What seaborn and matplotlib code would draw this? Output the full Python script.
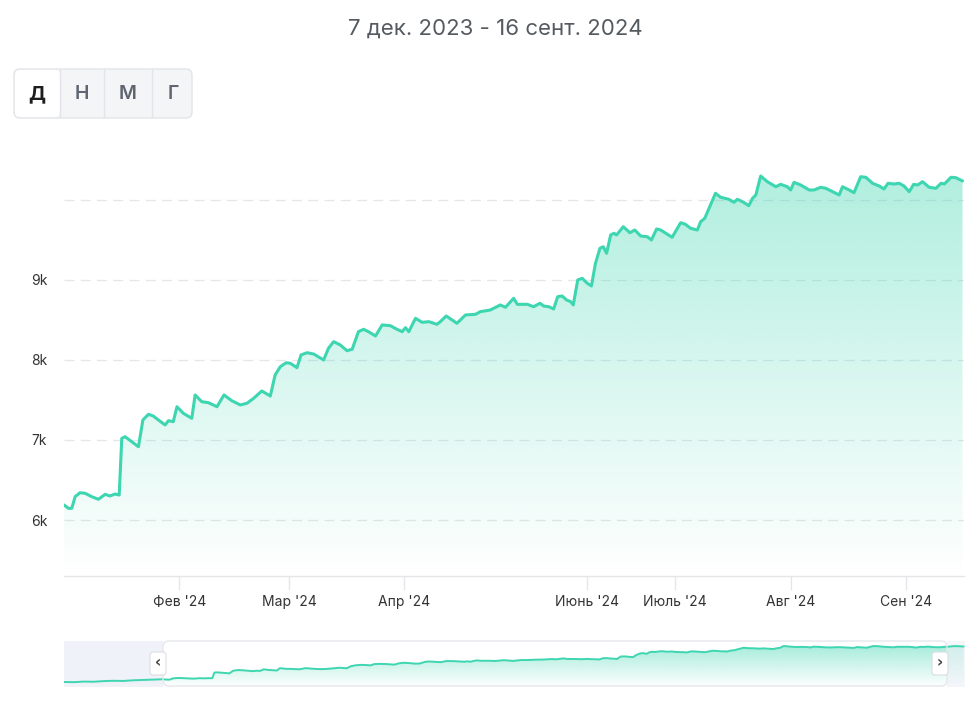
import numpy as np
import pandas as pd
import matplotlib
matplotlib.use("Agg")
import matplotlib.pyplot as plt
import seaborn as sns
from matplotlib.patches import FancyBboxPatch, Rectangle, Polygon
from matplotlib.colors import to_rgb

# ---------------- data ----------------
title = "7 дек. 2023 - 16 сент. 2024"
buttons = ["Д", "Н", "М", "Г"]

day_index = [0, 1.2, 2.1, 3.0, 4.3, 5.7, 7.5, 9.3, 11.1, 12.4, 13.8, 14.9, 15.6, 16.5, 18.3,
             20.1, 21.3, 22.8, 24.1, 25.5, 27.3, 28.2, 29.5, 30.5, 32.2, 34.5, 35.4, 37.2, 39.0,
             41.3, 43.2, 45.3, 47.6, 49.4, 51.2, 53.4, 55.7, 57.0, 58.4, 60.0, 61.1, 62.9, 64.0,
             65.6, 67.4, 70.1, 71.4, 72.8, 74.6, 76.4, 77.8, 79.5, 80.9, 82.2, 84.1, 85.9, 88.1,
             89.9, 91.3, 92.2, 93.1, 94.9, 96.7, 98.5, 100.7, 101.6, 103.2, 104.8, 106.1, 108.4,
             111.1, 112.4, 115.1, 116.0, 117.8, 119.2, 121.4, 122.4, 125.1, 126.8, 128.5, 129.5,
             130.9, 132.2, 133.3, 134.5, 135.7, 136.8, 137.5, 138.7, 139.9, 141.3, 142.4, 143.5,
             144.7, 145.6, 146.5, 147.6, 148.5, 149.2, 151.0, 152.8, 154.1, 155.7, 157.5, 158.6,
             160.0, 161.1, 164.2, 166.5, 167.8, 169.2, 171.0, 171.9, 173.0, 175.9, 177.3, 179.5,
             180.9, 181.8, 183.2, 184.9, 185.9, 186.8, 188.1, 189.9, 192.2, 193.5, 195.3, 196.2,
             197.1, 198.9, 201.2, 202.5, 204.3, 205.7, 207.0, 209.3, 210.2, 212.0, 213.3, 215.1,
             216.5, 218.3, 220.1, 221.4, 222.5, 224.1, 225.5, 226.8, 228.2, 229.4, 230.5, 231.8,
             233.6, 235.4, 236.8, 237.7, 239.5, 240.8, 242.6]
values = [6188, 6146, 6146, 6291, 6341, 6334, 6291, 6259, 6321, 6300, 6325, 6312, 7021, 7041, 6979,
          6916, 7250, 7321, 7300, 7250, 7188, 7241, 7229, 7416, 7334, 7271, 7563, 7479, 7466,
          7416, 7563, 7491, 7438, 7459, 7521, 7613, 7550, 7813, 7916, 7966, 7959, 7904, 8063,
          8091, 8075, 8000, 8146, 8229, 8188, 8116, 8134, 8354, 8384, 8354, 8300, 8438, 8429,
          8384, 8354, 8404, 8354, 8521, 8471, 8479, 8446, 8479, 8550, 8500, 8459, 8563,
          8571, 8604, 8625, 8646, 8688, 8659, 8771, 8696, 8696, 8666, 8709, 8675,
          8666, 8638, 8791, 8800, 8750, 8729, 8688, 9000, 9021, 8959, 8925, 9209,
          9396, 9416, 9334, 9563, 9584, 9563, 9666, 9591, 9625, 9550, 9541, 9500,
          9638, 9625, 9534, 9716, 9696, 9646, 9625, 9729, 9771, 10084, 10034, 10009,
          9971, 10009, 9979, 9929, 10021, 10063, 10300, 10229, 10166, 10196, 10166, 10125,
          10221, 10188, 10125, 10125, 10159, 10146, 10116, 10063, 10166, 10125, 10091, 10291,
          10284, 10209, 10175, 10138, 10209, 10200, 10209, 10175, 10104, 10196, 10188, 10229,
          10159, 10146, 10209, 10200, 10284, 10279, 10238]

# December part, only visible in the navigator
dec_index = [-30, -27, -24, -21, -18, -15, -12, -9, -6, -3]
dec_values = [5850, 5830, 5900, 5880, 5960, 6000, 5980, 6060, 6100, 6150]

x_tick_pos = [31.1, 60.8, 91.9, 141.1, 164.9, 196.2, 227.3]
x_tick_labels = ["Фев '24", "Мар '24", "Апр '24", "Июнь '24", "Июль '24", "Авг '24", "Сен '24"]
y_ticks = [6000, 7000, 8000, 9000, 10000]
y_tick_labels = ["6k", "7k", "8k", "9k", ""]

main_df = pd.DataFrame({"x": day_index, "y": values})
nav_df = pd.DataFrame({"x": dec_index + day_index, "y": dec_values + values})

# ---------------- style ----------------
sns.set_theme(style="white")
plt.rcParams["font.family"] = ["Inter", "DejaVu Sans"]

LINE = "#3dd6b0"
TXT = "#333333"
GRID = "#e6e6ea"

W, H = 974, 702
fig = plt.figure(figsize=(W / 100, H / 100), dpi=100)
fig.patch.set_facecolor("white")


def px_axes(x0, y0, x1, y1):
    return fig.add_axes([x0 / W, 1 - y1 / H, (x1 - x0) / W, (y1 - y0) / H])


def gradient_fill(ax, df, ymin, ytop, alpha_top):
    xs = df["x"].to_numpy()
    ys = df["y"].to_numpy()
    verts = [(xs[0], ymin)] + list(zip(xs, ys)) + [(xs[-1], ymin)]
    poly = Polygon(verts, closed=True, facecolor="none", edgecolor="none")
    ax.add_patch(poly)
    n = 256
    rgba = np.zeros((n, 1, 4))
    rgba[:, :, :3] = to_rgb(LINE)
    rgba[:, 0, 3] = np.linspace(alpha_top, 0.0, n)
    im = ax.imshow(rgba, aspect="auto", extent=[xs[0], xs[-1], ymin, ytop],
                   origin="upper", zorder=1, interpolation="bilinear")
    im.set_clip_path(poly)


# ---------------- main chart ----------------
ax = px_axes(64, 144, 964, 576)
ax.set_facecolor("white")
gradient_fill(ax, main_df, 5300, 10300, 0.40)
sns.lineplot(data=main_df, x="x", y="y", ax=ax, color=LINE, linewidth=2.2, zorder=3)
ax.set_xlim(0, 243)
ax.set_ylim(5300, 10700)
ax.set_xlabel("")
ax.set_ylabel("")

ax.set_yticks(y_ticks)
ax.set_yticklabels(y_tick_labels)
ax.set_xticks(x_tick_pos)
ax.set_xticklabels(x_tick_labels)
ax.yaxis.grid(True, color=GRID, linestyle=(0, (8, 5)), linewidth=0.9)
ax.xaxis.grid(False)
ax.set_axisbelow(True)
for s in ["top", "right", "left"]:
    ax.spines[s].set_visible(False)
ax.spines["bottom"].set_color(GRID)
ax.spines["bottom"].set_linewidth(1.0)
ax.tick_params(axis="x", direction="out", length=10, width=1.0, color=GRID,
               labelsize=10, labelcolor=TXT, pad=4, bottom=True)
ax.tick_params(axis="y", length=0, labelsize=10, labelcolor=TXT, pad=12)

# ---------------- navigator ----------------
nav = px_axes(64, 641, 965, 687)
nav.set_facecolor("white")
gradient_fill(nav, nav_df, 5230, 10300, 0.45)
sns.lineplot(data=nav_df, x="x", y="y", ax=nav, color=LINE, linewidth=1.4, zorder=3)
nav.set_xlim(-30, 243)
nav.set_ylim(5230, 10920)
nav.axvspan(-30, 0, color="#eef0f8", alpha=0.85, zorder=2, linewidth=0)
nav.axvspan(237.5, 243, color="#eef0f8", alpha=0.6, zorder=2, linewidth=0)
nav.set_axis_off()

# ---------------- overlay (pixel coords) ----------------
ov = fig.add_axes([0, 0, 1, 1])
ov.set_xlim(0, W)
ov.set_ylim(H, 0)
ov.set_axis_off()
ov.patch.set_alpha(0)

# title
ov.text(495, 29, title, ha="center", va="center", fontsize=16, color="#555a60")

# buttons
ov.add_patch(FancyBboxPatch((14, 69), 178, 49, boxstyle="round,pad=0,rounding_size=6",
                            facecolor="#f4f5f7", edgecolor="#e2e4e8", linewidth=1.0, zorder=1))
ov.add_patch(FancyBboxPatch((15, 70), 45, 47, boxstyle="round,pad=0,rounding_size=5",
                            facecolor="white", edgecolor="none", zorder=2))
for xd in [60, 104, 152]:
    ov.plot([xd, xd], [70, 117], color="#e2e4e8", linewidth=1.0, zorder=3)
centers = [37, 82, 128, 173]
for i, (b, cx) in enumerate(zip(buttons, centers)):
    ov.text(cx, 94, b, ha="center", va="center", fontsize=14,
            color="#1e1e1e" if i == 0 else "#5f6670",
            fontweight="bold" if i == 0 else "semibold", zorder=4)

# navigator selection frame and handles
ov.add_patch(FancyBboxPatch((163, 641), 784, 45, boxstyle="round,pad=0,rounding_size=6",
                            facecolor="none", edgecolor="#e6e7ec", linewidth=1.0, zorder=3))
for hx, ch in [(158, "‹"), (940, "›")]:
    ov.add_patch(FancyBboxPatch((hx - 8, 652), 16, 23, boxstyle="round,pad=0,rounding_size=3",
                                facecolor="white", edgecolor="#dcdde2", linewidth=0.8, zorder=4))
    ov.text(hx, 662.5, ch, ha="center", va="center", fontsize=11, color="#444444",
            fontweight="bold", zorder=5, family=["DejaVu Sans"])

fig.savefig("out.png", dpi=100, facecolor="white")
